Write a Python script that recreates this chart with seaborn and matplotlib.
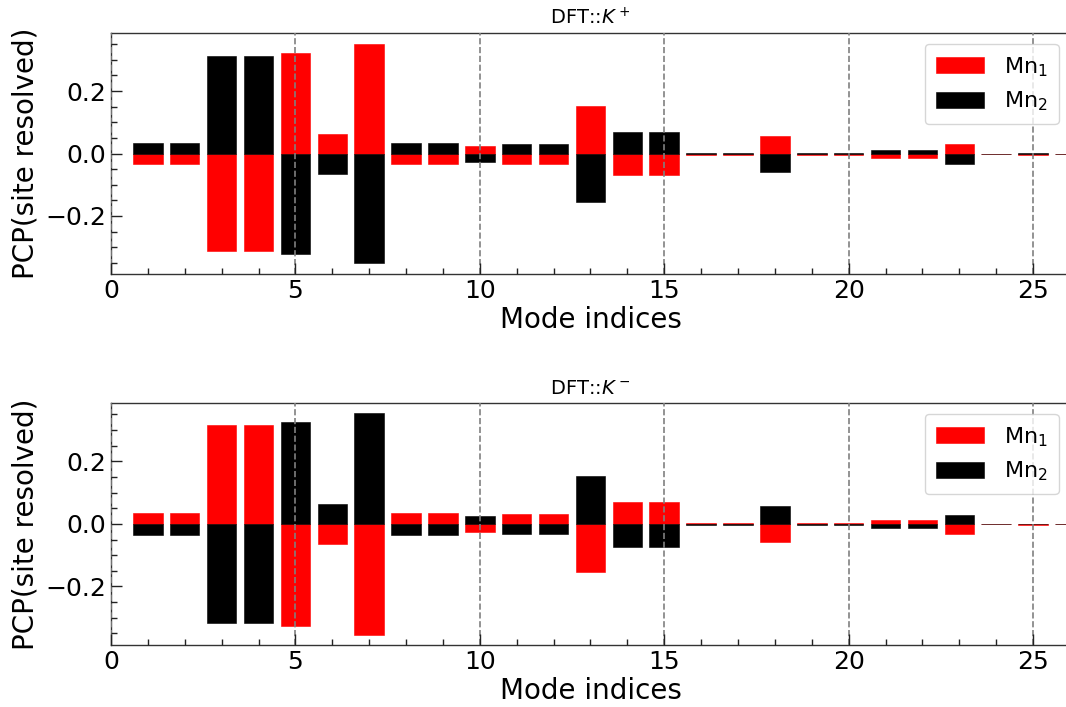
import matplotlib
matplotlib.use("Agg")
import matplotlib.pyplot as plt
from matplotlib.ticker import MultipleLocator
import numpy as np
import seaborn as sns

# ---- data ----
modes = list(range(1, 27))

mn1_kplus = [-0.035, -0.035, -0.313, -0.313, 0.322, 0.063, 0.351, -0.035, -0.035, 0.025,
             -0.032, -0.032, 0.153, -0.070, -0.070, -0.004, -0.004, 0.057, -0.004, -0.004,
             -0.013, -0.013, 0.029, 0.000, -0.004, 0.000]
mn2_kplus = [0.035, 0.035, 0.313, 0.313, -0.323, -0.065, -0.352, 0.035, 0.035, -0.027,
             0.032, 0.032, -0.154, 0.069, 0.069, 0.002, 0.002, -0.058, 0.002, 0.002,
             0.012, 0.012, -0.032, -0.002, 0.001, -0.002]

mn1_kminus = [0.035, 0.035, 0.315, 0.315, -0.327, -0.065, -0.355, 0.035, 0.035, -0.026,
              0.032, 0.032, -0.154, 0.070, 0.070, 0.002, 0.002, -0.058, 0.002, 0.002,
              0.012, 0.012, -0.032, 0.000, -0.004, 0.000]
mn2_kminus = [-0.035, -0.035, -0.317, -0.317, 0.324, 0.063, 0.353, -0.035, -0.035, 0.025,
              -0.032, -0.032, 0.153, -0.074, -0.074, -0.003, -0.003, 0.056, -0.003, -0.003,
              -0.013, -0.013, 0.029, -0.002, 0.001, -0.002]

titles = [r"DFT::$K^+$", r"DFT::$K^-$"]
labels = [r"Mn$_1$", r"Mn$_2$"]
colors = ["#ff0000", "#000000"]

sns.set_style("white")
plt.rcParams["font.family"] = ["DejaVu Sans"]
plt.rcParams["mathtext.fontset"] = "dejavusans"
for key in ["text.color", "axes.labelcolor", "xtick.color", "ytick.color"]:
    plt.rcParams[key] = "black"

fig = plt.figure(figsize=(10.66, 7.07), dpi=100)
ax1 = fig.add_axes([0.1041, 0.612, 0.8996, 0.3417])
ax2 = fig.add_axes([0.1041, 0.0877, 0.8996, 0.3427])

panels = [(ax1, mn1_kplus, mn2_kplus, titles[0]),
          (ax2, mn1_kminus, mn2_kminus, titles[1])]

for ax, m1, m2, title in panels:
    sns.barplot(x=modes, y=m1, native_scale=True, color=colors[0], width=0.8,
                saturation=1, errorbar=None, label=labels[0], ax=ax,
                edgecolor=colors[0], linewidth=0.4)
    sns.barplot(x=modes, y=m2, native_scale=True, color=colors[1], width=0.8,
                saturation=1, errorbar=None, label=labels[1], ax=ax,
                edgecolor=colors[1], linewidth=0.4)
    ax.set_xlim(0, 26)
    ax.set_ylim(-0.387, 0.387)
    ax.xaxis.set_major_locator(MultipleLocator(5))
    ax.xaxis.set_minor_locator(MultipleLocator(1))
    ax.yaxis.set_major_locator(MultipleLocator(0.2))
    ax.yaxis.set_minor_locator(MultipleLocator(0.05))
    ax.tick_params(which="both", direction="in", top=False, right=False,
                   bottom=True, left=True, color="#222222", width=1.0)
    ax.tick_params(which="major", length=8, labelsize=18)
    ax.tick_params(which="minor", length=4)
    ax.grid(axis="x", which="major", linestyle="--", color="gray", linewidth=1.2)
    ax.set_axisbelow(False)
    for sp in ax.spines.values():
        sp.set_color("#333333")
        sp.set_linewidth(1.0)
    ax.set_xlabel("Mode indices", fontsize=20, labelpad=2)
    ax.set_ylabel("PCP(site resolved)", fontsize=20)
    ax.set_title(title, fontsize=14, pad=6)
    ax.legend(loc="upper right", fontsize=16, handlelength=2.15, handleheight=0.75,
              handletextpad=0.9, labelspacing=0.5, borderpad=0.5, frameon=True)

fig.savefig("out.png", dpi=100)
